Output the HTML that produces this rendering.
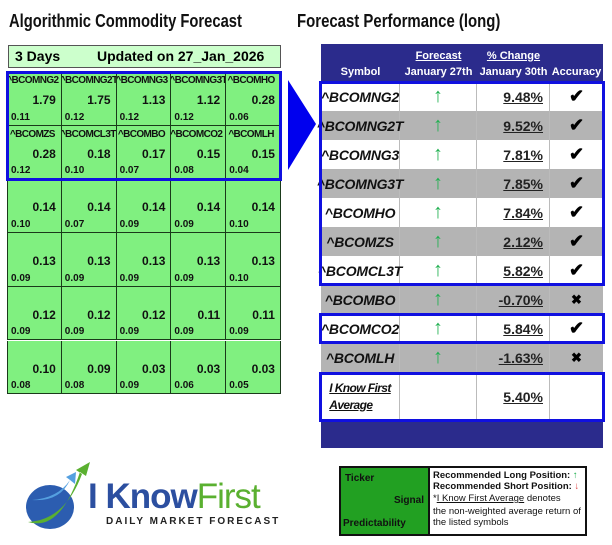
<!DOCTYPE html>
<html><head><meta charset="utf-8"><style>
body{margin:0;width:612px;height:545px;background:#fff;position:relative;overflow:hidden;font-family:"Liberation Sans",Arial,sans-serif;}
.a{position:absolute;}
.title{font-weight:bold;font-size:18px;color:#111;top:11px;white-space:nowrap;transform-origin:0 0;}
.cell{position:absolute;background:#80f080;border-right:1px solid #1a3a1a;border-bottom:1px solid #1a3a1a;box-sizing:border-box;overflow:hidden;}
.tk{position:absolute;left:-2px;top:3px;width:100%;font-size:10px;font-weight:bold;color:#111;white-space:nowrap;text-align:center;letter-spacing:-0.6px;}
.sg{position:absolute;right:5px;top:21px;font-size:12px;font-weight:bold;color:#111;}
.pr{position:absolute;left:3px;bottom:2px;font-size:10px;font-weight:bold;color:#111;}
.row{position:absolute;left:321px;width:282px;height:29px;}
.rc{position:absolute;top:0;height:100%;box-sizing:border-box;border-right:1px solid #bbb;display:flex;align-items:center;}
.sym{font-style:italic;font-weight:bold;font-size:14px;color:#111;justify-content:center;white-space:nowrap;letter-spacing:-0.2px;}
.pct{font-weight:bold;font-size:14px;text-decoration:underline;justify-content:flex-end;padding-right:6px;color:#222;}
.up{color:#20b050;font-size:20px;justify-content:center;}
.acc{justify-content:center;font-size:18px;font-weight:bold;color:#000;}
.bbox{position:absolute;border:3px solid #1010e0;box-sizing:border-box;}
.hd{position:absolute;color:#fff;font-weight:bold;font-size:11px;text-align:center;}
</style></head><body>
<div class="a title" style="left:9px;transform:scaleX(0.82);">Algorithmic Commodity Forecast</div>
<div class="a title" style="left:297px;transform:scaleX(0.83);">Forecast Performance (long)</div>

<div class="a" style="left:8px;top:45px;width:273px;height:23px;background:#ccffcc;border:1px solid #555;box-sizing:border-box;font-weight:bold;font-size:14px;">
<span class="a" style="left:6px;top:2px;">3 Days</span><span class="a" style="left:88px;top:2px;">Updated on 27_Jan_2026</span></div>

<div id="grid"></div>
<div class="bbox" style="left:6px;top:71px;width:276px;height:110px;"></div>
<svg class="a" style="left:286px;top:78px;" width="32" height="95"><polygon points="2,2 30,46 2,92" fill="#0000ee"/></svg>

<div class="a" style="left:321px;top:44px;width:282px;height:38px;background:#2b2b8c;">
<div class="hd" style="left:0;width:79px;top:22px;">Symbol</div>
<div class="hd" style="left:79px;width:77px;top:6px;text-decoration:underline;">Forecast</div>
<div class="hd" style="left:79px;width:77px;top:22px;">January 27th</div>
<div class="hd" style="left:156px;width:73px;top:6px;text-decoration:underline;">% Change</div>
<div class="hd" style="left:156px;width:73px;top:22px;">January 30th</div>
<div class="hd" style="left:229px;width:53px;top:22px;">Accuracy</div>
</div>
<div id="tbl"></div>
<div class="row" style="top:372px;height:49px;background:#fff;">
<div class="rc" style="left:0;width:79px;justify-content:center;flex-direction:column;font-style:italic;font-weight:bold;font-size:12px;line-height:17px;text-decoration:underline;letter-spacing:-0.6px;color:#111;">I Know First<br>Average</div>
<div class="rc" style="left:79px;width:77px;"></div>
<div class="rc pct" style="left:156px;width:73px;">5.40%</div>
</div>
<div class="a" style="left:321px;top:421px;width:282px;height:27px;background:#2b2b8c;"></div>
<div class="bbox" style="left:319px;top:81px;width:286px;height:205px;"></div>
<div class="bbox" style="left:319px;top:313px;width:286px;height:31px;"></div>
<div class="bbox" style="left:319px;top:372px;width:286px;height:50px;"></div>

<div class="a" style="left:339px;top:466px;width:248px;height:70px;border:2px solid #111;box-sizing:border-box;">
<div class="a" style="left:0;top:0;width:87px;height:66px;background:#22a022;border-right:2px solid #111;font-weight:bold;font-size:10px;color:#111;">
<span class="a" style="left:4px;top:5px;">Ticker</span><span class="a" style="right:4px;top:27px;">Signal</span><span class="a" style="left:2px;top:50px;">Predictability</span></div>
<div class="a" style="left:92px;top:2px;font-size:9.5px;line-height:11px;color:#111;white-space:nowrap;">
<b>Recommended Long Position:</b> <span style="color:#20b050;">↑</span><br><b>Recommended Short Position:</b> <span style="color:#e04040;">↓</span><br>
<span style="line-height:14px;">*<u>I Know First Average</u> denotes</span><br>the non-weighted average return of<br>the listed symbols</div>
</div>

<div class="a" style="left:20px;top:462px;width:260px;height:75px;">
<svg class="a" style="left:0;top:0;" width="72" height="75"><ellipse cx="30" cy="45" rx="24" ry="22" fill="#2c5db0"/><path d="M8,60 Q40,70 60,10 L66,14 L70,0 L56,8 L62,12 Q45,58 8,60Z" fill="#5ab030"/><path d="M12,38 Q40,40 50,18 L55,22 L56,10 L46,15 L50,18 Q38,36 12,38Z" fill="#55a0e0"/></svg>
<div class="a" style="left:68px;top:15px;font-size:35px;letter-spacing:-1px;white-space:nowrap;"><span style="color:#2c4fa0;font-weight:bold;">I Know</span><span style="color:#5ab030;">First</span></div>
<div class="a" style="left:86px;top:54px;font-size:10px;font-weight:bold;letter-spacing:2px;color:#222;white-space:nowrap;">DAILY MARKET FORECAST</div>
</div>

<script>
const tickers=["^BCOMNG2","^BCOMNG2T","^BCOMNG3","^BCOMNG3T","^BCOMHO","^BCOMZS","^BCOMCL3T","^BCOMBO","^BCOMCO2","^BCOMLH"];
const signals=["1.79","1.75","1.13","1.12","0.28","0.28","0.18","0.17","0.15","0.15","0.14","0.14","0.14","0.14","0.14","0.13","0.13","0.13","0.13","0.13","0.12","0.12","0.12","0.11","0.11","0.10","0.09","0.03","0.03","0.03"];
const preds=["0.11","0.12","0.12","0.12","0.06","0.12","0.10","0.07","0.08","0.04","0.10","0.07","0.09","0.09","0.10","0.09","0.09","0.09","0.09","0.10","0.09","0.09","0.09","0.09","0.09","0.08","0.08","0.09","0.06","0.05"];
const pctChange=["9.48%","9.52%","7.81%","7.85%","7.84%","2.12%","5.82%","-0.70%","5.84%","-1.63%"];
const accuracy=[1,1,1,1,1,1,1,0,1,0];
const g=document.getElementById('grid');
const cw=54.8,ch=53.7,gx=7,gy=72;
for(let i=0;i<signals.length;i++){
 const r=Math.floor(i/5),c=i%5;
 const d=document.createElement('div');d.className='cell';
 
 
 d.style.left=(gx+c*cw)+'px';d.style.top=(gy+r*ch)+'px';d.style.width=cw+'px';d.style.height=ch+'px';
 if(c==0)d.style.borderLeft='1px solid #1a3a1a';
 d.innerHTML=(i<tickers.length?'<div class="tk">'+tickers[i]+'</div>':'')+'<div class="sg">'+signals[i]+'</div><div class="pr">'+preds[i]+'</div>';
 g.appendChild(d);
}
const t=document.getElementById('tbl');
for(let i=0;i<tickers.length;i++){
 const d=document.createElement('div');d.className='row';
 
 
 d.style.top=(82+i*29)+'px';d.style.background=i%2?'#b4b4b4':'#fff';
 d.innerHTML='<div class="rc sym" style="left:0;width:79px;">'+tickers[i]+'</div><div class="rc up" style="left:79px;width:77px;">↑</div><div class="rc pct" style="left:156px;width:73px;">'+pctChange[i]+'</div><div class="rc acc" style="left:229px;width:53px;border-right:none;">'+(accuracy[i]?'✔':'<span style="font-size:13px">✖</span>')+'</div>';
 t.appendChild(d);
}
</script>
</body></html>
